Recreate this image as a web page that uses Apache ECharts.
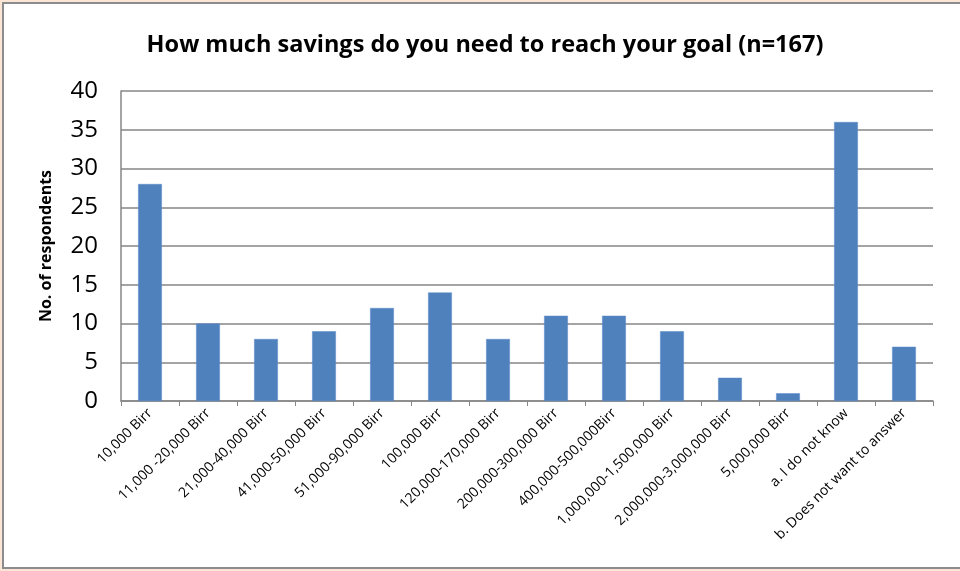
<!DOCTYPE html>
<html>
<head>
<meta charset="utf-8">
<script src="https://cdn.jsdelivr.net/npm/echarts@6/dist/echarts.min.js"></script>
<style>
  html, body { margin: 0; padding: 0; background: #FBE5D6; overflow: hidden; }
  #frame { position: absolute; left: 2px; top: 2px; width: 1000px; height: 567px;
           box-sizing: border-box; border: 2px solid #8C8C8C; background: #FFFFFF; }
  #chart { position: absolute; left: 0; top: 0; width: 960px; height: 571px; }
</style>
</head>
<body>
<div id="frame"></div>
<div id="chart"></div>
<script>
// Savings target ranges and number of respondents for each
const categories = [
  '10,000 Birr', '11,000 -20,000 Birr', '21,000-40,000 Birr', '41,000-50,000 Birr',
  '51,000-90,000 Birr', '100,000 Birr', '120,000-170,000 Birr', '200,000-300,000 Birr',
  '400,000-500,000Birr', '1,000,000-1,500,000 Birr', '2,000,000-3,000,000 Birr',
  '5,000,000 Birr', 'a. I do not know', 'b. Does not want to answer'
];
const respondents = [28, 10, 8, 9, 12, 14, 8, 11, 11, 9, 3, 1, 36, 7];
const titleText = 'How much savings do you need to reach your goal (n=167)';
const yAxisName = 'No. of respondents';

const chart = echarts.init(document.getElementById('chart'), null, { renderer: 'canvas' });
const font = 'Open Sans, Lato, sans-serif';

chart.setOption({
  backgroundColor: 'transparent',
  animation: false,
  title: {
    text: titleText,
    left: 480, top: 28, textAlign: 'center',
    textStyle: { fontFamily: font, fontSize: 23.5, fontWeight: 'bold', color: '#000' }
  },
  grid: { left: 121, top: 91, right: 27, bottom: 170, containLabel: false },
  xAxis: {
    type: 'category',
    data: categories,
    axisLine: { show: true, lineStyle: { color: '#868686', width: 1.5 } },
    axisTick: { show: true, alignWithLabel: false, length: 5, lineStyle: { color: '#868686' } },
    axisLabel: {
      rotate: 45, interval: 0, margin: 10,
      fontFamily: font, fontSize: 14, color: '#000'
    }
  },
  yAxis: {
    type: 'value',
    min: 0, max: 40, interval: 5,
    name: yAxisName,
    nameLocation: 'middle', nameGap: 67, nameRotate: 90,
    nameTextStyle: { fontFamily: font, fontSize: 16, fontWeight: 'bold', color: '#000' },
    axisLine: { show: true, lineStyle: { color: '#868686', width: 1.5 } },
    axisTick: { show: false },
    axisLabel: { fontFamily: font, fontSize: 24, color: '#000', margin: 23 },
    splitLine: { show: true, lineStyle: { color: '#868686', width: 1.5 } }
  },
  series: [{
    type: 'bar',
    data: respondents,
    barWidth: '41%',
    itemStyle: { color: '#4F81BD', borderColor: '#5B8ACB', borderWidth: 0.5 }
  }]
});
</script>
</body>
</html>
